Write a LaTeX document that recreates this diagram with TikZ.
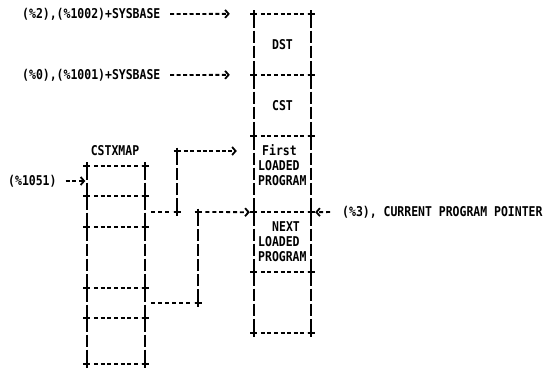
\documentclass[tikz,border=0pt]{standalone}
\usepackage{fontspec}
\usetikzlibrary{arrows.meta,decorations}
\newfontfamily\ascfont{DejaVu Sans Mono}[FakeStretch=0.85]
\tikzset{
  txt/.style={inner sep=0pt, text height=9.8pt, text depth=0pt,
    font=\ascfont\bfseries\fontsize{13.5pt}{15pt}\selectfont},
  boxnode/.style={txt, rectangle, draw=none, minimum width=57pt},
  hd/.style={line width=1.8pt, dash pattern=on 4pt off 2.3pt, dash expand off},
  vd/.style={line width=1.8pt, dash pattern=on 12.2pt off 3pt, dash phase=2pt},
  tip/.style={-{Straight Barb[length=3.5pt,width=8pt]}},
  pl/.pic={\draw[line width=1.8pt, solid] (-3.5,0) -- (3.5,0) (0,-3.5) -- (0,3.5);}
}
\newcommand\abxside[1]{%
  \draw[hd] ([xshift=4.5pt]#1.north west) -- ([xshift=-4.5pt]#1.north east);
  \draw[vd] ([yshift=-3.5pt]#1.north west) -- ([yshift=3.5pt]#1.south west);
  \draw[vd] ([yshift=-3.5pt]#1.north east) -- ([yshift=3.5pt]#1.south east);
  \pic at (#1.north west) {pl};
  \pic at (#1.north east) {pl};
}
\newcommand\abxbottom[1]{%
  \draw[hd] ([xshift=4.5pt]#1.south west) -- ([xshift=-4.5pt]#1.south east);
  \pic at (#1.south west) {pl};
  \pic at (#1.south east) {pl};
}
\begin{document}
\begin{tikzpicture}[x=1pt,y=-1pt]
\useasboundingbox (0,0) rectangle (546,370);

% right stack
\node[boxnode, minimum height=61pt] (dst)   at (282.5, 44.5)  {DST};
\node[boxnode, minimum height=61pt] (cst)   at (282.5, 105.5) {CST};
\node[boxnode, minimum height=76pt] (first) at (282.5, 174)   {};
\node[boxnode, minimum height=60pt] (next)  at (282.5, 242)   {};
\node[boxnode, minimum height=61pt] (spare) at (282.5, 302.5) {};

\node[txt, anchor=west] (f1) at (262, 151) {First};
\node[txt, anchor=west] (f2) at (258, 166) {LOADED};
\node[txt, anchor=west] (f3) at (258, 181) {PROGRAM};
\node[txt, anchor=west] (n1) at (272, 227) {NEXT};
\node[txt, anchor=west] (n2) at (258, 242) {LOADED};
\node[txt, anchor=west] (n3) at (258, 257) {PROGRAM};

% left stack (CSTXMAP)
\node[boxnode, minimum width=58pt, minimum height=30pt] (m1) at (116, 181)   {};
\node[boxnode, minimum width=58pt, minimum height=31pt] (m2) at (116, 211.5) {};
\node[boxnode, minimum width=58pt, minimum height=61pt] (m3) at (116, 257.5) {};
\node[boxnode, minimum width=58pt, minimum height=30pt] (m4) at (116, 303)   {};
\node[boxnode, minimum width=58pt, minimum height=46pt] (m5) at (116, 341)   {};
\node[txt] (lmap) at (115, 151) {CSTXMAP};

% outlines
\abxside{dst}\abxside{cst}\abxside{first}\abxside{next}\abxside{spare}\abxbottom{spare}
\abxside{m1}\abxside{m2}\abxside{m3}\abxside{m4}\abxside{m5}\abxbottom{m5}

% labels
\node[txt, anchor=west] (l0)   at (22, 14)  {(\%2),(\%1002)+SYSBASE};
\node[txt, anchor=west] (l4)   at (22, 75)  {(\%0),(\%1001)+SYSBASE};
\node[txt, anchor=west] (l11)  at (8, 181)  {(\%1051)};
\node[txt, anchor=west] (lptr) at (342, 212) {(\%3), CURRENT PROGRAM POINTER};

% arrows from labels
\draw[hd, tip, shorten <=7pt, shorten >=24pt] (l0.east) -- (dst.north west);
\draw[hd, tip, shorten <=7pt, shorten >=24pt] (l4.east) -- (cst.north west);
\draw[hd, tip, shorten <=6pt, shorten >=1.5pt] (l11.east) -- (m1.west);
\draw[hd, tip, shorten <=9pt, shorten >=4pt] (lptr.west) -- (first.south east);

% connector 1: CSTXMAP entry -> first loaded program
\coordinate (jt) at (177, 151);
\coordinate (ja) at (177, 212);
\draw[hd] ([xshift=3pt]m2.east |- ja) -- ([xshift=-4.5pt]ja);
\draw[vd] ([yshift=3.5pt]ja) -- ([yshift=-3.5pt]jt);
\draw[hd, tip, shorten >=17pt] ([xshift=4.5pt]jt) -- (first.west |- jt);
\pic at (jt) {pl};
\pic at (ja) {pl};

% connector 2: CSTXMAP entry -> next loaded program
\coordinate (jb) at (198, 212);
\coordinate (jc) at (198, 303);
\draw[hd] ([xshift=3pt]m4.east) -- ([xshift=-4.5pt]jc);
\draw[vd] ([yshift=3.5pt]jc) -- ([yshift=-3.5pt]jb);
\draw[hd, tip, shorten >=4pt] ([xshift=4.5pt]jb) -- (first.south west);
\pic at (jb) {pl};
\pic at (jc) {pl};
\end{tikzpicture}
\end{document}
